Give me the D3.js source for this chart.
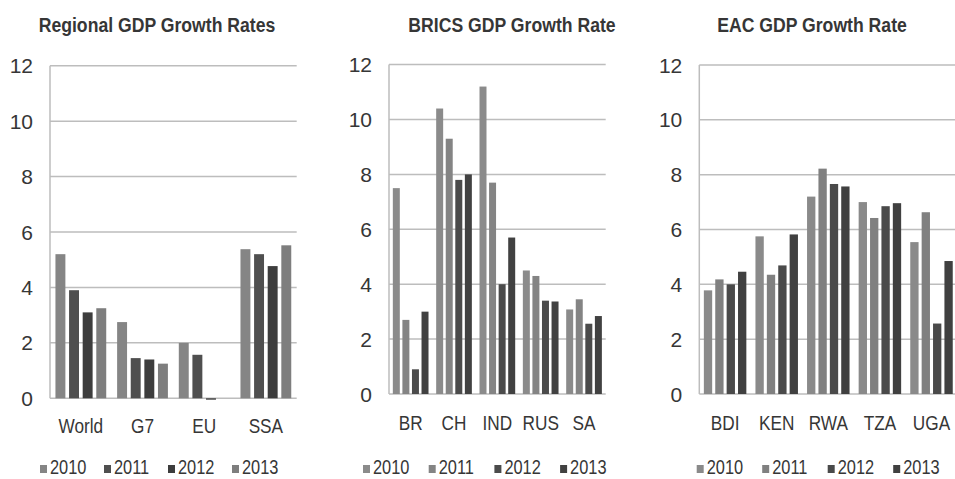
<!DOCTYPE html>
<html>
<head>
<meta charset="utf-8">
<script src="https://cdn.jsdelivr.net/npm/d3@7"></script>
<style>
  html, body { margin: 0; padding: 0; background: #fff; }
  svg { display: block; }
  text { font-family: "Liberation Sans", Arial, sans-serif; fill: #363636; }
</style>
</head>
<body>
<svg id="chart" width="955" height="479"></svg>
<script>
// ---------- DATA ----------
const years = ["2010", "2011", "2012", "2013"];
const yTicks = [0, 2, 4, 6, 8, 10, 12];

const regionTitle = "Regional GDP Growth Rates";
const regionCats = ["World", "G7", "EU", "SSA"];
const region2010 = [5.2, 2.75, 2.0, 5.38];
const region2011 = [3.9, 1.45, 1.57, 5.2];
const region2012 = [3.1, 1.4, -0.05, 4.77];
const region2013 = [3.25, 1.25, 0.0, 5.52];

const bricsTitle = "BRICS GDP Growth Rate";
const bricsCats = ["BR", "CH", "IND", "RUS", "SA"];
const brics2010 = [7.5, 10.4, 11.2, 4.5, 3.08];
const brics2011 = [2.7, 9.3, 7.7, 4.3, 3.45];
const brics2012 = [0.9, 7.8, 4.0, 3.4, 2.56];
const brics2013 = [3.0, 8.0, 5.7, 3.37, 2.84];

const eacTitle = "EAC GDP Growth Rate";
const eacCats = ["BDI", "KEN", "RWA", "TZA", "UGA"];
const eac2010 = [3.78, 5.75, 7.2, 7.0, 5.54];
const eac2011 = [4.18, 4.35, 8.22, 6.42, 6.63];
const eac2012 = [4.0, 4.69, 7.66, 6.85, 2.57];
const eac2013 = [4.46, 5.82, 7.57, 6.96, 4.85];

// ---------- LAYOUT / STYLE ----------
const panels = [
  { title: regionTitle, cats: regionCats, series: [region2010, region2011, region2012, region2013],
    colors: ["#858585", "#4f4f4f", "#3d3d3d", "#7e7e7e"],
    x0: 50, x1: 296.7, y0: 398.3, y12: 65.7, titleX: 157, catY: 433,
    legendX: 40, legendStep: 64, legendY: 474 },
  { title: bricsTitle, cats: bricsCats, series: [brics2010, brics2011, brics2012, brics2013],
    colors: ["#8b8b8b", "#848484", "#4b4b4b", "#414141"],
    x0: 389, x1: 605.7, y0: 394, y12: 64.6, titleX: 512, catY: 430,
    legendX: 363, legendStep: 65.7, legendY: 474 },
  { title: eacTitle, cats: eacCats, series: [eac2010, eac2011, eac2012, eac2013],
    colors: ["#8a8a8a", "#808080", "#4a4a4a", "#404040"],
    x0: 699.3, x1: 957.3, y0: 394, y12: 65, titleX: 812, catY: 430,
    legendX: 696.7, legendStep: 65.5, legendY: 474 }
];

const svg = d3.select("#chart");
const gridColor = "#bdbdbd";
const squeeze = 0.82;

panels.forEach(p => {
  const g = svg.append("g");
  const y = d3.scaleLinear().domain([0, 12]).range([p.y0, p.y12]);
  const x = d3.scaleBand().domain(p.cats).range([p.x0, p.x1]).paddingInner(0).paddingOuter(0);
  const xs = d3.scaleBand().domain(years).range([0, x.bandwidth()]).paddingInner(0.27).paddingOuter(0.4);

  // gridlines
  g.selectAll("line.grid").data(yTicks).join("line")
    .attr("class", "grid")
    .attr("x1", p.x0).attr("x2", p.x1)
    .attr("y1", d => y(d)).attr("y2", d => y(d))
    .attr("stroke", gridColor).attr("stroke-width", 1.5);
  // left axis line
  g.append("line")
    .attr("x1", p.x0).attr("x2", p.x0)
    .attr("y1", y(12)).attr("y2", y(0))
    .attr("stroke", gridColor).attr("stroke-width", 1.5);

  // y tick labels
  g.selectAll("text.ytick").data(yTicks).join("text")
    .attr("class", "ytick")
    .attr("x", p.x0 - 17).attr("y", d => y(d))
    .attr("text-anchor", "end").attr("dominant-baseline", "central")
    .attr("font-size", 21)
    .text(d => d);

  // bars
  years.forEach((yr, si) => {
    g.selectAll("rect.s" + si).data(p.series[si]).join("rect")
      .attr("class", "s" + si)
      .attr("x", (d, i) => x(p.cats[i]) + xs(yr))
      .attr("width", xs.bandwidth())
      .attr("y", d => Math.min(y(d), y(0)))
      .attr("height", d => Math.abs(y(d) - y(0)))
      .attr("fill", p.colors[si]);
  });

  // category labels
  g.selectAll("text.cat").data(p.cats).join("text")
    .attr("class", "cat")
    .attr("transform", d => `translate(${x(d) + x.bandwidth() / 2},${p.catY}) scale(${squeeze},1)`)
    .attr("text-anchor", "middle")
    .attr("font-size", 21)
    .text(d => d);

  // title
  g.append("text")
    .attr("transform", `translate(${p.titleX},32) scale(0.84,1)`)
    .attr("text-anchor", "middle")
    .attr("font-size", 21).attr("font-weight", "bold")
    .attr("fill", "#333")
    .text(p.title);

  // legend
  const lg = g.selectAll("g.leg").data(years).join("g")
    .attr("class", "leg")
    .attr("transform", (d, i) => `translate(${p.legendX + i * p.legendStep},${p.legendY})`);
  lg.append("rect")
    .attr("x", 0).attr("y", -9).attr("width", 7).attr("height", 8)
    .attr("fill", (d, i) => p.colors[i]);
  lg.append("text")
    .attr("transform", `translate(10,0) scale(${squeeze},1)`)
    .attr("font-size", 20)
    .text(d => d);
});
</script>
</body>
</html>
